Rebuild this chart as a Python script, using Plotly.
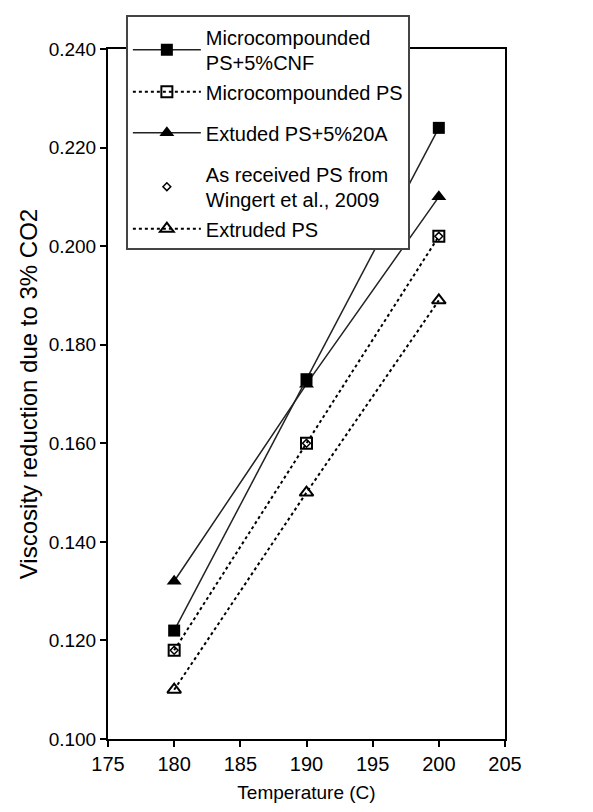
import plotly.graph_objects as go

temps = [180, 190, 200]
micro_cnf = [0.122, 0.173, 0.224]
micro_ps = [0.118, 0.160, 0.202]
extr_20a = [0.132, 0.172, 0.210]
wingert = [0.118, 0.160, 0.202]
extr_ps = [0.110, 0.150, 0.189]

FONT = "Liberation Sans, Arial, sans-serif"

fig = go.Figure()
fig.add_trace(go.Scatter(x=temps, y=micro_ps, mode="lines+markers",
    name="Microcompounded PS", legendgroup="g1", legendrank=2,
    line=dict(color="black", width=2, dash="dot"),
    marker=dict(symbol="square-open", size=11, color="black", line=dict(width=2))))
fig.add_trace(go.Scatter(x=temps, y=wingert, mode="markers",
    name="As received PS from<br>Wingert et al., 2009", legendgroup="g3", legendrank=4,
    marker=dict(symbol="diamond-open", size=6, color="black", line=dict(width=1.5))))
fig.add_trace(go.Scatter(x=temps, y=extr_ps, mode="lines+markers",
    name="Extruded PS", legendgroup="g3", legendrank=5,
    line=dict(color="black", width=2, dash="dot"),
    marker=dict(symbol="triangle-up-open", size=12, color="black", line=dict(width=2))))
fig.add_trace(go.Scatter(x=temps, y=extr_20a, mode="lines+markers",
    name="Extuded PS+5%20A", legendgroup="g2", legendrank=3,
    line=dict(color="#222", width=1.5),
    marker=dict(symbol="triangle-up", size=13, color="black")))
fig.add_trace(go.Scatter(x=temps, y=micro_cnf, mode="lines+markers",
    name="Microcompounded<br>PS+5%CNF", legendgroup="g1", legendrank=1,
    line=dict(color="#222", width=1.5),
    marker=dict(symbol="square", size=12, color="black")))

fig.update_layout(
    width=593, height=812,
    margin=dict(l=108, r=88, t=49, b=73),
    paper_bgcolor="white", plot_bgcolor="white",
    font=dict(family=FONT, size=19, color="black"),
    legend=dict(x=0.045, y=1.049, xanchor="left", yanchor="top",
                bgcolor="white", bordercolor="#444", borderwidth=2,
                font=dict(family=FONT, size=20, color="black"),
                traceorder="grouped", tracegroupgap=12, itemwidth=68),
    xaxis=dict(range=[175, 205], dtick=5, tick0=175, showgrid=False, zeroline=False,
               showline=True, linecolor="black", linewidth=2, mirror=True,
               ticks="outside", ticklen=6, tickwidth=1.5, tickcolor="black",
               tickfont=dict(size=20),
               title=dict(text="Temperature (C)", font=dict(size=19), standoff=12)),
    yaxis=dict(range=[0.1, 0.24], dtick=0.02, tick0=0.1, tickformat=".3f",
               showgrid=False, zeroline=False,
               showline=True, linecolor="black", linewidth=2, mirror=True,
               ticks="outside", ticklen=6, tickwidth=1.5, tickcolor="black",
               tickfont=dict(size=19),
               title=dict(text="Viscosity reduction due to 3% CO2", font=dict(size=24), standoff=4)),
    showlegend=True,
)

fig.write_html("out.html")
